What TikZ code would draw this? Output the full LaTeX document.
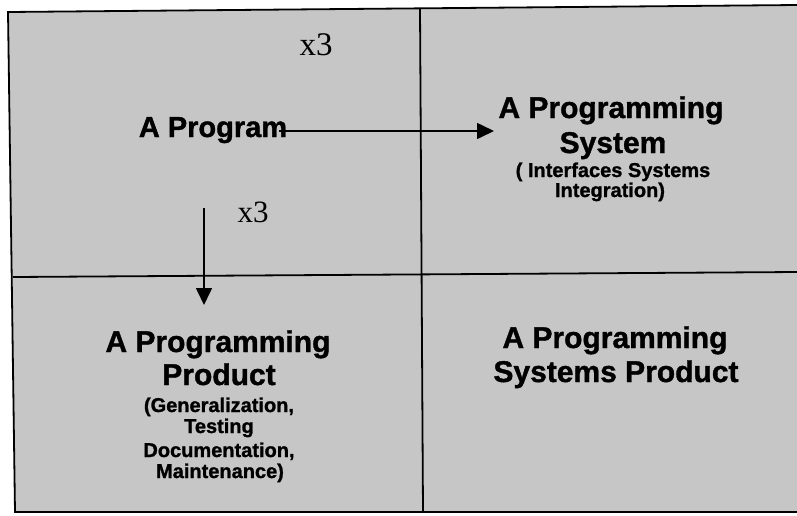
\documentclass[tikz,border=0pt]{standalone}
\usepackage{fontspec}
\setmainfont{Liberation Sans}[BoldFeatures={FakeBold=1.2}]
\newfontfamily\timesf{Liberation Serif}
\usetikzlibrary{arrows.meta}
\definecolor{paper}{RGB}{198,198,198}
\tikzset{
  big/.style={font=\fontsize{30}{33}\selectfont\bfseries, inner sep=0pt, anchor=base},
  small/.style={font=\fontsize{20}{22}\selectfont\bfseries, inner sep=0pt, anchor=base},
  times/.style={font=\timesf\fontsize{33}{36}\selectfont, inner sep=0pt, anchor=base},
  rule/.style={line width=1.8pt, black},
  arr/.style={line width=1.6pt, -{Triangle[length=17pt,width=16pt]}}
}
\begin{document}
\begin{tikzpicture}[x=1pt,y=-1pt]
\useasboundingbox (0,0) rectangle (797,515);
\fill[white] (0,0) rectangle (797,515);
% box
\fill[paper] (8,12) -- (797,5) -- (797,512) -- (15,512) -- cycle;
\draw[rule] (797,5) -- (8,12) -- (15,512) -- (797,512);
\draw[rule] (420,8) -- (423,512);
\draw[rule] (13,277) -- (797,272);
% texts
\node[times] (xa) at (316,55) {x3};
\node[times, font=\timesf\fontsize{31}{34}\selectfont] (xb) at (253,222) {x3};
\node[big, font=\fontsize{29}{32}\selectfont\bfseries] (prog) at (213,137) {A Program};
\node[big] (sysa) at (611,118) {A Programming};
\node[big] (sysb) at (613,153) {System};
\node[small] (sysc) at (613,177) {( Interfaces Systems};
\node[small] (sysd) at (610,197) {Integration)};
\node[big] (proda) at (218,352) {A Programming};
\node[big] (prodb) at (219,385) {Product};
\node[small] (prodc) at (219,412) {(Generalization,};
\node[small] (prodd) at (219,433) {Testing};
\node[small] (prode) at (219,457) {Documentation,};
\node[small] (prodf) at (220,478) {Maintenance)};
\node[big] (spa) at (615,348) {A Programming};
\node[big] (spb) at (616,382) {Systems Product};
% connectors
\coordinate (htip) at (494,131);
\coordinate (vstart) at (204,208);
\coordinate (vtip) at (204,305);
\draw[arr] ([xshift=-8pt,yshift=6pt]prog.base east) -- (htip);
\draw[arr] (vstart) -- (vtip);
\end{tikzpicture}
\end{document}
